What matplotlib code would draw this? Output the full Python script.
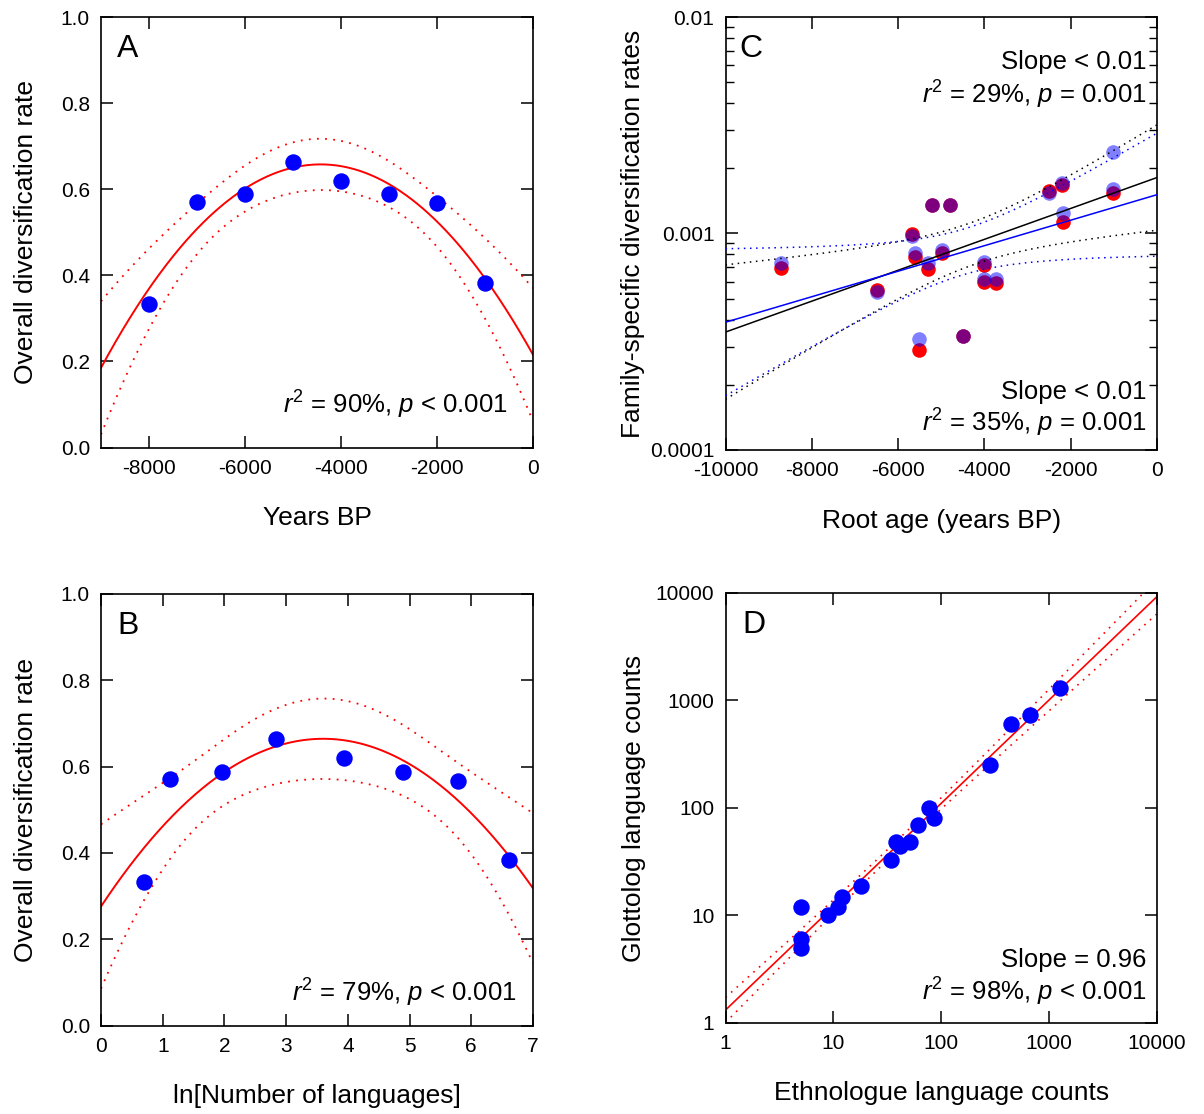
import numpy as np
import matplotlib
matplotlib.use("Agg")
import matplotlib.pyplot as plt
from matplotlib.ticker import LogLocator, NullFormatter, FixedLocator, FixedFormatter

plt.rcParams["font.family"] = ["Liberation Sans", "DejaVu Sans"]
plt.rcParams["mathtext.fontset"] = "custom"
plt.rcParams["mathtext.rm"] = "Liberation Sans"
plt.rcParams["mathtext.it"] = "Liberation Sans:italic"
plt.rcParams["axes.unicode_minus"] = False

# --------------------------------------------------
# data
# --------------------------------------------------
# A: overall diversification rate by time bin
years_bp = [-8000, -7000, -6000, -5000, -4000, -3000, -2000, -1000]
overall_rate = [0.333, 0.571, 0.588, 0.664, 0.619, 0.588, 0.567, 0.383]

# B: same rates against ln(number of languages)
ln_n_languages = [0.70, 1.11, 1.96, 2.84, 3.93, 4.89, 5.78, 6.61]

# C: family-specific rates vs root age (red and blue estimates)
root_age_red = [-8721, -6496, -5678, -5601, -5509, -5307, -5214, -4990, -4797,
                -4503, -4010, -4010, -3731, -2510, -2200, -2185, -1027]
rate_red = [0.000695, 0.000548, 0.000995, 0.000781, 0.000290, 0.000688, 0.00136,
            0.000815, 0.00136, 0.000337, 0.000716, 0.000600, 0.000589, 0.001566,
            0.001675, 0.001134, 0.001543]
root_age_blue = [-8721, -6496, -5678, -5601, -5509, -5307, -5214, -4990, -4797,
                 -4503, -4010, -4010, -3731, -2510, -2200, -2185, -1027, -1013]
rate_blue = [0.000728, 0.000535, 0.000974, 0.000815, 0.000326, 0.000728, 0.00136,
             0.000839, 0.00136, 0.000337, 0.000736, 0.000616, 0.000614, 0.001543,
             0.001706, 0.00124, 0.00160, 0.00237]

# D: Ethnologue vs Glottolog counts
ethnologue = [5, 5, 5, 9, 11, 12, 18, 34, 38, 41, 51, 61, 77, 85, 283, 443, 664, 1259]
glottolog = [12, 6, 5, 10, 12, 15, 19, 33, 48, 44, 48, 70, 99, 80, 251, 600, 733, 1315]

# two-sided 95% t quantiles for the residual degrees of freedom
T95 = {5: 2.571, 15: 2.131, 16: 2.120}

RED = "#ff0000"
BLUE = "#0000ff"
DOT = (0, (1, 3.5))
TICK_FS = 15
LABEL_FS = 19
NOTE_FS = 18.5
LETTER_FS = 23


def fit_with_band(x, y, deg, xs):
    x = np.asarray(x, float)
    y = np.asarray(y, float)
    X = np.vander(x, deg + 1)
    beta = np.linalg.lstsq(X, y, rcond=None)[0]
    resid = y - X @ beta
    dof = len(x) - (deg + 1)
    cov = resid @ resid / dof * np.linalg.inv(X.T @ X)
    Xs = np.vander(xs, deg + 1)
    fit = Xs @ beta
    se = np.sqrt(np.einsum("ij,jk,ik->i", Xs, cov, Xs))
    t = T95[dof]
    return fit, fit - t * se, fit + t * se


def style_axes(ax):
    for s in ax.spines.values():
        s.set_linewidth(1.2)
    ax.tick_params(which="major", direction="in", top=True, right=True,
                   length=8.5, width=1.1, labelsize=TICK_FS, pad=8)
    ax.tick_params(which="minor", direction="in", top=True, right=True,
                   length=5.5, width=1.0)


fig = plt.figure(figsize=(12.04, 11.14), dpi=100)

axA = fig.add_axes([0.0839, 0.5982, 0.3588, 0.3865])
axB = fig.add_axes([0.0839, 0.0794, 0.3588, 0.3874])
axC = fig.add_axes([0.6026, 0.5961, 0.3584, 0.3886])
axD = fig.add_axes([0.6026, 0.0817, 0.3584, 0.3860])

# --------------------------------------------------
# A
# --------------------------------------------------
xs = np.linspace(-9000, 0, 300)
fit, lo, hi = fit_with_band(np.array(years_bp) / 1000, overall_rate, 2, xs / 1000)
axA.plot(xs, fit, color=RED, lw=1.4)
axA.plot(xs, lo, color=RED, lw=1.3, ls=DOT)
axA.plot(xs, hi, color=RED, lw=1.3, ls=DOT)
axA.scatter(years_bp, overall_rate, s=140, color=BLUE, zorder=3, linewidths=0)
axA.set_xlim(-9000, 0)
axA.set_ylim(0, 1)
axA.set_xticks([-8000, -6000, -4000, -2000, 0])
axA.set_yticks([0, 0.2, 0.4, 0.6, 0.8, 1.0])
axA.set_yticklabels(["0.0", "0.2", "0.4", "0.6", "0.8", "1.0"])
axA.set_xlabel("Years BP", fontsize=LABEL_FS)
axA.set_ylabel("Overall diversification rate", fontsize=LABEL_FS)
axA.text(0.942, 0.099, r"$r^2$ = 90%, $p$ < 0.001", transform=axA.transAxes,
         ha="right", va="center", fontsize=NOTE_FS)
axA.text(0.037, 0.96, "A", transform=axA.transAxes, ha="left", va="top", fontsize=LETTER_FS)

# --------------------------------------------------
# B
# --------------------------------------------------
xs = np.linspace(0, 7, 300)
fit, lo, hi = fit_with_band(ln_n_languages, overall_rate, 2, xs)
axB.plot(xs, fit, color=RED, lw=1.4)
axB.plot(xs, lo, color=RED, lw=1.3, ls=DOT)
axB.plot(xs, hi, color=RED, lw=1.3, ls=DOT)
axB.scatter(ln_n_languages, overall_rate, s=140, color=BLUE, zorder=3, linewidths=0)
axB.set_xlim(0, 7)
axB.set_ylim(0, 1)
axB.set_xticks(range(8))
axB.set_yticks([0, 0.2, 0.4, 0.6, 0.8, 1.0])
axB.set_yticklabels(["0.0", "0.2", "0.4", "0.6", "0.8", "1.0"])
axB.set_xlabel("ln[Number of languages]", fontsize=LABEL_FS)
axB.set_ylabel("Overall diversification rate", fontsize=LABEL_FS)
axB.text(0.961, 0.075, r"$r^2$ = 79%, $p$ < 0.001", transform=axB.transAxes,
         ha="right", va="center", fontsize=NOTE_FS)
axB.text(0.037, 0.96, "B", transform=axB.transAxes, ha="left", va="top", fontsize=LETTER_FS)

# --------------------------------------------------
# C
# --------------------------------------------------
axC.scatter(root_age_red, rate_red, s=110, color=RED, linewidths=0, zorder=2)
axC.scatter(root_age_blue, rate_blue, s=110, color=BLUE, alpha=0.5, linewidths=0, zorder=2)
xs = np.linspace(-10000, 0, 300)
# black line goes with the blue estimates, blue line with the red ones
for ax_x, ax_y, col in [(root_age_blue, rate_blue, "black"), (root_age_red, rate_red, BLUE)]:
    fit, lo, hi = fit_with_band(np.array(ax_x) / 1000, np.log10(ax_y), 1, xs / 1000)
    axC.plot(xs, 10 ** fit, color=col, lw=1.1, zorder=3)
    axC.plot(xs, 10 ** lo, color=col, lw=1.1, ls=(0, (1, 3)), zorder=3)
    axC.plot(xs, 10 ** hi, color=col, lw=1.1, ls=(0, (1, 3)), zorder=3)
axC.set_yscale("log")
axC.set_xlim(-10000, 0)
axC.set_ylim(0.0001, 0.01)
axC.set_xticks([-10000, -8000, -6000, -4000, -2000, 0])
axC.yaxis.set_major_locator(FixedLocator([0.0001, 0.001, 0.01]))
axC.yaxis.set_major_formatter(FixedFormatter(["0.0001", "0.001", "0.01"]))
axC.yaxis.set_minor_locator(LogLocator(base=10, subs=range(2, 10)))
axC.yaxis.set_minor_formatter(NullFormatter())
axC.set_xlabel("Root age (years BP)", fontsize=LABEL_FS)
axC.set_ylabel("Family-specific diversification rates", fontsize=LABEL_FS)
axC.text(0.975, 0.896, "Slope < 0.01", transform=axC.transAxes,
         ha="right", va="center", fontsize=NOTE_FS)
axC.text(0.975, 0.82, r"$r^2$ = 29%, $p$ = 0.001", transform=axC.transAxes,
         ha="right", va="center", fontsize=NOTE_FS)
axC.text(0.975, 0.135, "Slope < 0.01", transform=axC.transAxes,
         ha="right", va="center", fontsize=NOTE_FS)
axC.text(0.975, 0.062, r"$r^2$ = 35%, $p$ = 0.001", transform=axC.transAxes,
         ha="right", va="center", fontsize=NOTE_FS)
axC.text(0.031, 0.96, "C", transform=axC.transAxes, ha="left", va="top", fontsize=LETTER_FS)

# --------------------------------------------------
# D
# --------------------------------------------------
xs = np.linspace(0, 4, 300)
fit, lo, hi = fit_with_band(np.log10(ethnologue), np.log10(glottolog), 1, xs)
axD.plot(10 ** xs, 10 ** fit, color=RED, lw=1.2)
axD.plot(10 ** xs, 10 ** lo, color=RED, lw=1.2, ls=DOT)
axD.plot(10 ** xs, 10 ** hi, color=RED, lw=1.2, ls=DOT)
axD.scatter(ethnologue, glottolog, s=140, color=BLUE, zorder=3, linewidths=0)
axD.set_xscale("log")
axD.set_yscale("log")
axD.set_xlim(1, 10000)
axD.set_ylim(1, 10000)
for axis in (axD.xaxis, axD.yaxis):
    axis.set_major_locator(FixedLocator([1, 10, 100, 1000, 10000]))
    axis.set_major_formatter(FixedFormatter(["1", "10", "100", "1000", "10000"]))
    axis.set_minor_locator(FixedLocator([]))
axD.set_xlabel("Ethnologue language counts", fontsize=LABEL_FS)
axD.set_ylabel("Glottolog language counts", fontsize=LABEL_FS)
axD.text(0.975, 0.147, "Slope = 0.96", transform=axD.transAxes,
         ha="right", va="center", fontsize=NOTE_FS)
axD.text(0.975, 0.073, r"$r^2$ = 98%, $p$ < 0.001", transform=axD.transAxes,
         ha="right", va="center", fontsize=NOTE_FS)
axD.text(0.04, 0.96, "D", transform=axD.transAxes, ha="left", va="top", fontsize=LETTER_FS)

for ax in (axA, axB, axC, axD):
    style_axes(ax)
    ax.xaxis.set_label_coords(0.5, -0.136)

axA.yaxis.set_label_coords(-0.146, 0.5)
axB.yaxis.set_label_coords(-0.146, 0.5)
axC.yaxis.set_label_coords(-0.187, 0.5)
axD.yaxis.set_label_coords(-0.184, 0.5)

plt.savefig("out.png", dpi=100)
plt.close()
